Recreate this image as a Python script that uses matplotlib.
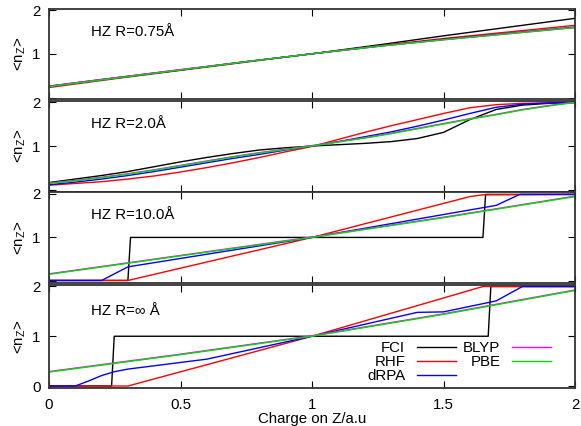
import matplotlib
matplotlib.use("Agg")
import matplotlib.pyplot as plt

plt.rcParams['font.family'] = ['Liberation Sans', 'DejaVu Sans']
plt.rcParams['mathtext.fontset'] = 'custom'
plt.rcParams['mathtext.rm'] = 'Liberation Sans'

# ---------------- data ----------------
methods = ["FCI", "RHF", "dRPA", "BLYP", "PBE"]
colors = {"FCI": "#000000", "RHF": "#ff0000", "dRPA": "#0000ff",
          "BLYP": "#ff00ff", "PBE": "#00dd00"}
panel_titles = ["HZ R=0.75Å", "HZ R=2.0Å", "HZ R=10.0Å", "HZ R=∞ Å"]
xticks = [0, 0.5, 1, 1.5, 2]
xticklabels = ["0", "0.5", "1", "1.5", "2"]
yticks = [0, 1, 2]

# Panel 1: R = 0.75 A
x1 = [0, 0.25, 0.5, 0.75, 1.0, 1.25, 1.5, 1.75, 2.0]
fci1 = [0.26, 0.45, 0.63, 0.82, 1.00, 1.20, 1.41, 1.61, 1.81]
rhf1 = [0.23, 0.43, 0.62, 0.81, 1.00, 1.18, 1.35, 1.50, 1.65]
drpa1 = [0.25, 0.44, 0.63, 0.82, 1.00, 1.17, 1.33, 1.47, 1.61]
blyp1 = [0.26, 0.45, 0.64, 0.82, 1.00, 1.17, 1.32, 1.46, 1.60]
pbe1 = [0.25, 0.44, 0.63, 0.82, 1.00, 1.17, 1.32, 1.46, 1.60]

# Panel 2: R = 2.0 A
x2 = [0.0, 0.1, 0.2, 0.3, 0.4, 0.5, 0.6, 0.7, 0.8, 0.9, 1.0,
      1.1, 1.2, 1.3, 1.4, 1.5, 1.6, 1.7, 1.8, 1.9, 2.0]
fci2 = [0.17, 0.25, 0.33, 0.42, 0.53, 0.64, 0.74, 0.83, 0.91, 0.96, 1.00,
        1.03, 1.06, 1.10, 1.17, 1.31, 1.60, 1.83, 1.93, 1.97, 1.99]
rhf2 = [0.11, 0.15, 0.19, 0.25, 0.32, 0.41, 0.51, 0.62, 0.74, 0.87, 0.99,
        1.15, 1.31, 1.46, 1.60, 1.74, 1.87, 1.94, 1.97, 1.98, 1.99]
drpa2 = [0.12, 0.18, 0.25, 0.33, 0.42, 0.52, 0.62, 0.72, 0.81, 0.91, 1.00,
         1.10, 1.21, 1.32, 1.45, 1.59, 1.74, 1.88, 1.95, 1.98, 1.99]
blyp2 = [0.16, 0.22, 0.29, 0.37, 0.46, 0.56, 0.66, 0.76, 0.85, 0.93, 1.01,
         1.10, 1.19, 1.29, 1.40, 1.51, 1.62, 1.72, 1.83, 1.92, 2.00]
pbe2 = [0.15, 0.21, 0.28, 0.36, 0.45, 0.55, 0.65, 0.75, 0.84, 0.92, 1.00,
        1.09, 1.18, 1.28, 1.39, 1.50, 1.61, 1.71, 1.82, 1.91, 1.99]

# Panel 3: R = 10.0 A
fci3_x = [0, 0.30, 0.31, 1.65, 1.66, 2.0]
fci3 = [0.02, 0.02, 1.00, 1.00, 1.98, 1.98]
rhf3_x = [0, 0.30, 1.0, 1.6, 1.65, 2.0]
rhf3 = [0.02, 0.02, 1.00, 1.93, 1.97, 1.98]
drpa3_x = [0, 0.20, 0.30, 1.0, 1.70, 1.79, 2.0]
drpa3 = [0.02, 0.02, 0.33, 1.00, 1.73, 1.98, 1.98]
blyp3_x = [0, 1.0, 1.5, 2.0]
blyp3 = [0.17, 1.01, 1.46, 1.94]
pbe3_x = [0, 1.0, 1.5, 2.0]
pbe3 = [0.16, 1.00, 1.45, 1.93]

# Panel 4: R = infinity
fci4_x = [0, 0.238, 0.248, 1.67, 1.68, 2.0]
fci4 = [0.0, 0.0, 1.0, 1.0, 2.0, 2.0]
rhf4_x = [0, 0.30, 1.0, 1.65, 2.0]
rhf4 = [0.0, 0.0, 1.0, 2.0, 2.0]
drpa4_x = [0, 0.10, 0.15, 0.20, 0.25, 0.30, 0.60, 1.0, 1.40, 1.50, 1.70, 1.80, 2.0]
drpa4 = [0.0, 0.0, 0.10, 0.21, 0.29, 0.34, 0.54, 1.00, 1.48, 1.49, 1.71, 2.00, 2.00]
blyp4_x = [0, 0.5, 1.0, 1.5, 2.0]
blyp4 = [0.29, 0.64, 1.01, 1.45, 1.93]
pbe4_x = [0, 0.5, 1.0, 1.5, 2.0]
pbe4 = [0.28, 0.63, 1.00, 1.44, 1.92]

panels = [
    {"FCI": (x1, fci1), "RHF": (x1, rhf1), "dRPA": (x1, drpa1),
     "BLYP": (x1, blyp1), "PBE": (x1, pbe1)},
    {"FCI": (x2, fci2), "RHF": (x2, rhf2), "dRPA": (x2, drpa2),
     "BLYP": (x2, blyp2), "PBE": (x2, pbe2)},
    {"FCI": (fci3_x, fci3), "RHF": (rhf3_x, rhf3), "dRPA": (drpa3_x, drpa3),
     "BLYP": (blyp3_x, blyp3), "PBE": (pbe3_x, pbe3)},
    {"FCI": (fci4_x, fci4), "RHF": (rhf4_x, rhf4), "dRPA": (drpa4_x, drpa4),
     "BLYP": (blyp4_x, blyp4), "PBE": (pbe4_x, pbe4)},
]

# ---------------- layout ----------------
W, H = 581, 426
fig = plt.figure(figsize=(W / 100, H / 100), dpi=100)
left_px, right_px = 49, 575
# (top, bottom) pixel extents of each panel
extents = [(8.7, 99.3), (100.7, 191.8), (192.2, 283.1), (285.0, 388.0)]

fs = 10.8
axes = []
for i, (top, bot) in enumerate(extents):
    ax = fig.add_axes([left_px / W, 1 - bot / H, (right_px - left_px) / W, (bot - top) / H])
    axes.append(ax)
    data = panels[i]
    for m in methods:
        xs, ys = data[m]
        ax.plot(xs, ys, color=colors[m], lw=1.0, label=m)
    ax.set_xlim(0, 2)
    ax.set_ylim(-0.04, 2.03)
    ax.set_xticks(xticks)
    ax.set_yticks(yticks)
    if i < 3:
        ax.set_xticklabels([])
        ax.set_yticklabels(["", "1", "2"])
    else:
        ax.set_xticklabels(xticklabels)
        ax.set_yticklabels(["0", "1", "2"])
    ax.tick_params(direction="in", top=True, right=True, length=5, width=0.8,
                   labelsize=fs, pad=6, colors="#000000")
    ax.tick_params(axis="x", pad=7)
    for s in ax.spines.values():
        s.set_linewidth(1.3)
        s.set_color("#333333")
    ax.set_ylabel("<n$_\\mathregular{Z}$>", fontsize=fs, labelpad=3)
    ax.text(0.16, 1.5, panel_titles[i], fontsize=fs, va="center", ha="left")

axes[3].set_xlabel("Charge on Z/a.u", fontsize=fs, labelpad=0)

leg = axes[3].legend(ncol=2, markerfirst=False, frameon=False, fontsize=fs,
                     loc="upper right", bbox_to_anchor=(558 / W, 1 - 334 / H),
                     bbox_transform=fig.transFigure, borderpad=0,
                     handlelength=2.6, handletextpad=0.75, columnspacing=0.5,
                     labelspacing=0.0)

fig.savefig("out.png", dpi=100)
